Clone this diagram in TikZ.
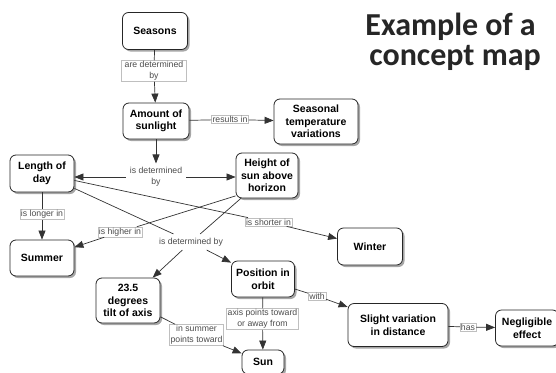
\documentclass[tikz,border=0pt]{standalone}
\usepackage{fontspec}
\setmainfont{Liberation Sans}
\newfontfamily\titlefont{Carlito}
\usetikzlibrary{arrows.meta,shadows}

\begin{document}
\begin{tikzpicture}[x=1pt, y=-1pt,
  concept/.style={draw=black!85, line width=0.8pt, rounded corners=6pt, fill=white,
    align=center, inner sep=2pt, font=\fontsize{10.5}{12.5}\selectfont\bfseries,
    drop shadow={shadow xshift=2pt, shadow yshift=-2pt, fill=black!50, opacity=0.7}},
  link/.style={draw=black!25, line width=0.4pt, fill=white, text=black!70,
    align=center, inner sep=1pt, font=\fontsize{8.7}{11}\selectfont},
  hub/.style={link, draw=none, outer sep=3pt},
  heading/.style={anchor=base east, inner sep=0pt, text=black!85,
    font=\titlefont\bfseries\fontsize{32}{30}\selectfont},
  conn/.style={draw=black!80, line width=0.7pt},
  arr/.style={conn, -{Triangle[length=9pt, width=7pt]}}]
  \useasboundingbox (0,0) rectangle (556,372);

  % Title
  \node[heading] (title1) at (536,35) {Example of a};
  \node[heading] (title2) at (541,65) {concept map};

  % Concepts
  \node[concept, minimum width=65pt, minimum height=37pt] (seasons) at (155,31) {Seasons};
  \node[concept, minimum width=66pt, minimum height=36pt] (sunlight) at (156,121) {Amount of\\sunlight};
  \node[concept, minimum width=84pt, minimum height=45pt] (tempvar) at (316,121.5) {Seasonal\\temperature\\variations};
  \node[concept, minimum width=64pt, minimum height=37pt] (daylen) at (42,173.5) {Length of\\day};
  \node[concept, minimum width=62pt, minimum height=45pt] (sunheight) at (267,175.5) {Height of\\sun above\\horizon};
  \node[concept, minimum width=64pt, minimum height=36pt] (summer) at (42,258) {Summer};
  \node[concept, minimum width=65pt, minimum height=37pt] (winter) at (370,246.5) {Winter};
  \node[concept, minimum width=63pt, minimum height=36pt] (orbit) at (263,279) {Position in\\orbit};
  \node[concept, minimum width=64pt, minimum height=45pt] (tilt) at (128,300.5) {23.5\\degrees\\tilt of axis};
  \node[concept, minimum width=100pt, minimum height=43pt] (distance) at (398,325) {Slight variation\\in distance};
  \node[concept, minimum width=63pt, minimum height=36pt] (negligible) at (527,328) {Negligible\\effect};
  \node[concept, minimum width=42pt, minimum height=24pt] (sun) at (263,362) {Sun};

  % Linking phrases
  \node[link, minimum width=65pt] (detby) at (154,71) {are determined\\by};
  \node[link] (results) at (230,119.5) {results in};
  \node[hub] (hubday) at (156,177) {is determined\\by};
  \node[link] (longer) at (42,214.5) {is longer in};
  \node[link] (higher) at (120,232) {is higher in};
  \node[link] (shorter) at (268.5,222) {is shorter in};
  \node[hub] (hubseason) at (191,242) {is determined by};
  \node[link] (with) at (317,296) {with};
  \node[link] (has) at (468,327) {has};
  \node[link] (axis) at (262.5,319) {axis points toward\\or away from};
  \node[link] (insummer) at (196.5,335) {in summer\\points toward};

  % Connections
  \draw[conn] (seasons) -- (detby);
  \draw[arr] (detby) -- (sunlight);
  \draw[conn] (sunlight) -- (results);
  \draw[arr] (results) -- (tempvar);
  \draw[arr] (sunlight) -- (hubday);
  \draw[arr] (hubday.west) -- (daylen.east |- hubday.west);
  \draw[arr] (hubday.east) -- (sunheight.west |- hubday.east);
  \draw[conn] (daylen) -- (longer);
  \draw[arr] (longer) -- (summer);
  \draw[conn] (sunheight.213) -- (higher);
  \draw[arr] (higher) -- (summer);
  \draw[conn] (daylen) -- (shorter);
  \draw[arr] (shorter) -- (winter);
  \draw[conn] (daylen) -- (hubseason);
  \draw[conn] (sunheight) -- (hubseason);
  \draw[arr] (hubseason) -- (tilt);
  \draw[arr] (hubseason) -- (orbit);
  \draw[conn] (orbit) -- (with);
  \draw[arr] (with) -- (distance);
  \draw[conn] (distance) -- (has);
  \draw[arr] (has) -- (negligible);
  \draw[conn] (orbit) -- (axis);
  \draw[arr] (axis) -- (sun);
  \draw[conn] (tilt) -- (insummer);
  \draw[arr] (insummer) -- (sun);
\end{tikzpicture}
\end{document}
